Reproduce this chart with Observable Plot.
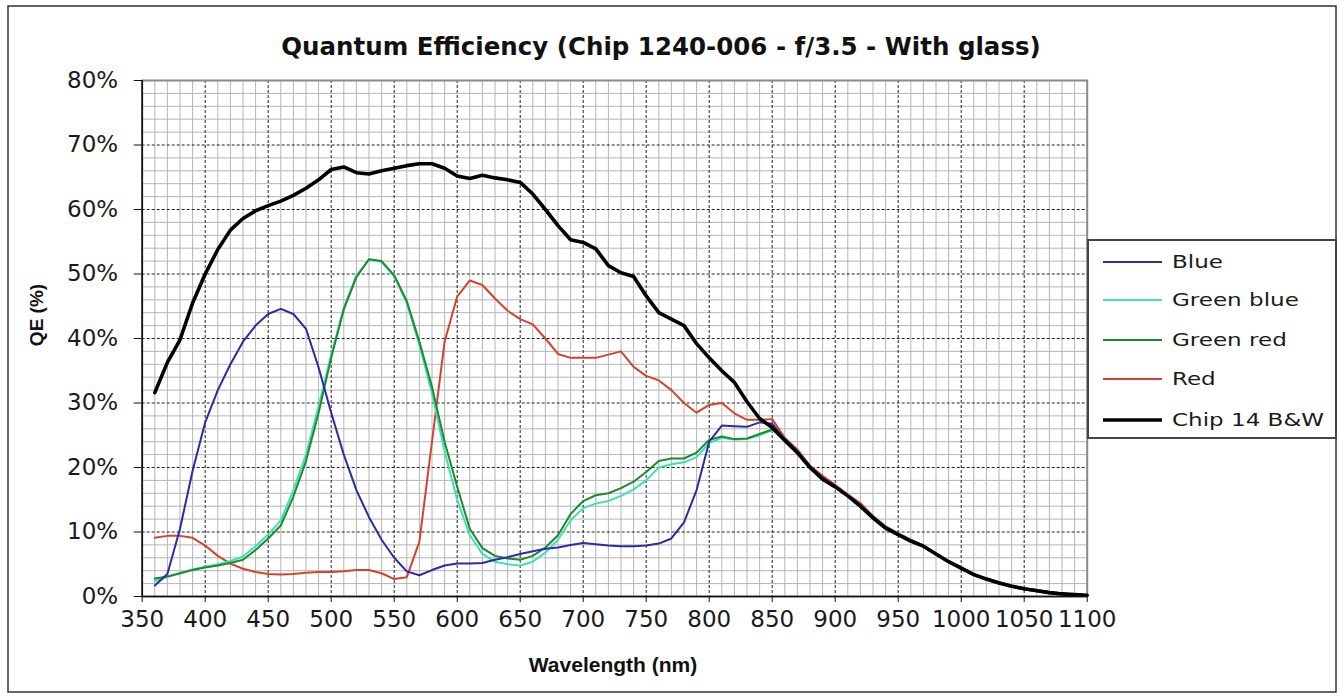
<!DOCTYPE html>
<html>
<head>
<meta charset="utf-8">
<script src="https://cdn.jsdelivr.net/npm/d3@7"></script>
<script src="https://cdn.jsdelivr.net/npm/@observablehq/plot@0.6"></script>
<style>
  body { margin: 0; background: #fff; }
  #chart { position: relative; width: 1339px; height: 699px; }
</style>
</head>
<body>
<div id="chart"></div>
<script>
// ---- Data ----
const title = "Quantum Efficiency (Chip 1240-006 - f/3.5 - With glass)";
const xTitle = "Wavelength (nm)";
const yTitle = "QE (%)";
const seriesNames = ["Blue", "Green blue", "Green red", "Red", "Chip 14 B&W"];
const seriesColors = ["#2b2ba6", "#3fe0b8", "#1d8a2e", "#d2432f", "#000000"];

const xTicks = [350, 400, 450, 500, 550, 600, 650, 700, 750, 800, 850, 900, 950, 1000, 1050, 1100];
const yTicks = [0, 10, 20, 30, 40, 50, 60, 70, 80];

const wavelengths = [
  360, 370, 380, 390, 400, 410, 420, 430, 440, 450,
  460, 470, 480, 490, 500, 510, 520, 530, 540, 550,
  560, 570, 580, 590, 600, 610, 620, 630, 640, 650,
  660, 670, 680, 690, 700, 710, 720, 730, 740, 750,
  760, 770, 780, 790, 800, 810, 820, 830, 840, 850,
  860, 870, 880, 890, 900, 910, 920, 930, 940, 950,
  960, 970, 980, 990, 1000, 1010, 1020, 1030, 1040, 1050,
  1060, 1070, 1080, 1090, 1100
];

const chipBW = [
  31.6, 36.3, 39.8, 45.5, 50.0, 53.8, 56.8, 58.6, 59.8, 60.6,
  61.3, 62.2, 63.3, 64.6, 66.2, 66.6, 65.7, 65.5, 66.0, 66.4,
  66.8, 67.1, 67.1, 66.4, 65.2, 64.8, 65.3, 64.9, 64.6, 64.2,
  62.4, 60.0, 57.5, 55.3, 54.9, 53.9, 51.3, 50.2, 49.6, 46.6,
  44.0, 43.0, 42.0, 39.2, 37.0, 35.0, 33.2, 30.2, 27.6, 26.2,
  24.2, 22.3, 20.0, 18.2, 17.0, 15.6, 14.0, 12.2, 10.6, 9.6,
  8.6, 7.8, 6.6, 5.4, 4.4, 3.4, 2.7, 2.1, 1.6, 1.2,
  0.9, 0.6, 0.4, 0.3, 0.2
];

const blue = [
  1.7, 3.5, 10.5, 19.5, 27.0, 32.0, 36.0, 39.5, 42.0, 43.8,
  44.6, 43.8, 41.5, 35.5, 28.5, 22.0, 16.5, 12.3, 8.8, 6.0,
  3.9, 3.3, 4.1, 4.8, 5.1, 5.1, 5.2, 5.7, 6.1, 6.6,
  7.0, 7.4, 7.6, 8.0, 8.3, 8.1, 7.9, 7.8, 7.8, 7.9,
  8.2, 9.0, 11.5, 16.5, 24.0, 26.5, 26.4, 26.3, 27.0, 26.8,
  24.3, 22.2, 19.9, 18.1, 16.9, 15.5, 13.9, 12.1, 10.5, 9.5,
  8.5, 7.7, 6.5, 5.3, 4.3, 3.3, 2.6, 2.0, 1.5, 1.1,
  0.8, 0.5, 0.3, 0.2, 0.1
];

const greenBlue = [
  2.4, 3.0, 3.6, 4.2, 4.6, 5.0, 5.5, 6.2, 7.8, 9.6,
  11.8, 16.5, 22.0, 29.5, 37.5, 44.8, 49.8, 52.2, 51.9, 49.6,
  45.5, 39.0, 31.5, 22.5, 15.0, 9.5, 6.6, 5.4, 5.0, 4.8,
  5.4, 6.8, 8.8, 11.8, 13.7, 14.4, 14.8, 15.6, 16.6, 18.0,
  20.0, 20.5, 20.8, 21.6, 23.8, 24.6, 24.3, 24.4, 25.0, 25.8,
  24.4, 22.4, 20.1, 18.3, 17.0, 15.6, 14.1, 12.3, 10.7, 9.7,
  8.6, 7.8, 6.6, 5.4, 4.4, 3.4, 2.7, 2.1, 1.6, 1.2,
  0.9, 0.6, 0.4, 0.3, 0.2
];

const greenRed = [
  2.8, 3.1, 3.6, 4.1, 4.5, 4.8, 5.2, 5.7, 7.2, 9.0,
  11.0, 15.5, 21.0, 28.5, 37.0, 44.5, 49.5, 52.3, 52.0, 49.8,
  45.8, 39.5, 32.5, 24.0, 17.0, 10.5, 7.5, 6.3, 5.9, 5.7,
  6.3, 7.6, 9.5, 12.8, 14.8, 15.7, 16.0, 16.8, 17.8, 19.3,
  21.0, 21.4, 21.4, 22.3, 24.3, 24.8, 24.4, 24.5, 25.2, 25.9,
  24.5, 22.5, 20.2, 18.4, 17.1, 15.7, 14.2, 12.4, 10.8, 9.8,
  8.7, 7.9, 6.7, 5.5, 4.5, 3.5, 2.8, 2.2, 1.7, 1.3,
  1.0, 0.7, 0.5, 0.3, 0.2
];

const red = [
  9.1, 9.4, 9.4, 9.1, 7.9, 6.3, 5.1, 4.3, 3.8, 3.5,
  3.4, 3.5, 3.7, 3.8, 3.8, 3.9, 4.1, 4.1, 3.6, 2.7,
  3.0, 8.5, 24.0, 39.5, 46.5, 49.0, 48.3, 46.2, 44.3, 43.0,
  42.2, 40.0, 37.6, 37.0, 37.0, 37.0, 37.5, 38.0, 35.6, 34.2,
  33.5, 32.0, 30.0, 28.5, 29.7, 30.0, 28.4, 27.4, 27.4, 27.5,
  24.6, 22.8, 20.3, 18.7, 17.3, 15.8, 14.5, 12.5, 10.9, 9.8,
  8.8, 7.9, 6.7, 5.5, 4.5, 3.5, 2.8, 2.2, 1.7, 1.3,
  1.0, 0.7, 0.5, 0.3, 0.2
];

const seriesValues = [blue, greenBlue, greenRed, red, chipBW];

// ---- Build tables ----
const tables = seriesValues.map((vals, s) =>
  wavelengths.map((w, i) => ({ wl: w, qe: vals[i], series: seriesNames[s] }))
);

// Grid positions (chart furniture, not data)
const minorX = d3.range(350, 1101, 10).filter(v => v % 50 !== 0);
const minorY = d3.range(0, 81, 2).filter(v => v % 10 !== 0);
const majorX = xTicks.filter(v => v !== 350 && v !== 1100);
const majorY = yTicks.filter(v => v !== 0 && v !== 80);

const W = 1339, H = 699;
const mL = 141.7, mR = W - 1086.7, mT = 80, mB = H - 596;

// draw order: Red, Green blue, Green red, Blue, then black on top
const drawOrder = [3, 1, 2, 0, 4];

const plot = Plot.plot({
  width: W,
  height: H,
  marginLeft: mL,
  marginRight: mR,
  marginTop: mT,
  marginBottom: mB,
  style: { fontFamily: "DejaVu Sans", fontSize: "23px", background: "white", color: "#1a1a1a" },
  x: { domain: [350, 1100] },
  y: { domain: [0, 80] },
  marks: [
    Plot.ruleX(minorX, { stroke: "#b4b4b4", strokeWidth: 1 }),
    Plot.ruleY(minorY, { stroke: "#b4b4b4", strokeWidth: 1 }),
    Plot.ruleX(majorX, { stroke: "#222", strokeWidth: 1, strokeDasharray: "3,2" }),
    Plot.ruleY(majorY, { stroke: "#222", strokeWidth: 1, strokeDasharray: "3,2" }),
    Plot.frame({ stroke: "#8a8a8a", strokeWidth: 2 }),
    ...drawOrder.map(s => Plot.line(tables[s], {
      x: "wl", y: "qe",
      stroke: seriesColors[s],
      strokeWidth: s === 4 ? 3.6 : 2,
      strokeLinejoin: "round"
    })),
    Plot.ruleX([350], { stroke: "#111", strokeWidth: 1.6 }),
    Plot.ruleY([0], { stroke: "#111", strokeWidth: 1.6 }),
    Plot.axisX({ ticks: xTicks, tickSize: 6, tickPadding: 8, tickFormat: d => String(d), label: null, stroke: "#111", fill: "#1a1a1a" }),
    Plot.axisY({ ticks: yTicks, tickSize: 8, tickPadding: 16, tickFormat: d => d + "%", label: null, stroke: "#111", fill: "#1a1a1a" })
  ]
});

document.getElementById("chart").appendChild(plot);

// ---- Extra furniture: border, titles, legend ----
const svg = d3.select(plot);

svg.insert("rect", ":first-child")
  .attr("x", 0).attr("y", 0).attr("width", W).attr("height", H).attr("fill", "#fff");

svg.append("rect")
  .attr("x", 8).attr("y", 6).attr("width", 1328).attr("height", 686)
  .attr("fill", "none").attr("stroke", "#333").attr("stroke-width", 1.5);

svg.append("text")
  .attr("x", 661).attr("y", 55)
  .attr("text-anchor", "middle")
  .attr("font-family", "DejaVu Sans").attr("font-weight", "bold").attr("font-size", 24.5)
  .attr("fill", "#111")
  .text(title);

svg.append("text")
  .attr("x", 613).attr("y", 672)
  .attr("text-anchor", "middle")
  .attr("font-family", "Liberation Sans").attr("font-weight", "bold").attr("font-size", 21)
  .attr("fill", "#111")
  .text(xTitle);

svg.append("text")
  .attr("transform", "translate(43,315) rotate(-90)")
  .attr("text-anchor", "middle")
  .attr("font-family", "Liberation Sans").attr("font-weight", "bold").attr("font-size", 19)
  .attr("fill", "#111")
  .text(yTitle);

const lg = svg.append("g");
lg.append("rect")
  .attr("x", 1088).attr("y", 240).attr("width", 248).attr("height", 198)
  .attr("fill", "#fff").attr("stroke", "#444").attr("stroke-width", 2);
const legendY = [262, 300, 340, 379, 420];
seriesNames.forEach((name, i) => {
  lg.append("line")
    .attr("x1", 1103).attr("x2", 1162).attr("y1", legendY[i]).attr("y2", legendY[i])
    .attr("stroke", seriesColors[i]).attr("stroke-width", i === 4 ? 3.6 : 2);
  lg.append("text")
    .attr("transform", `translate(1172,${legendY[i]}) scale(1.28,1)`)
    .attr("dy", "0.36em")
    .attr("text-anchor", "start")
    .attr("font-family", "DejaVu Sans").attr("font-size", 18)
    .attr("fill", "#1a1a1a")
    .text(name);
});
</script>
</body>
</html>
